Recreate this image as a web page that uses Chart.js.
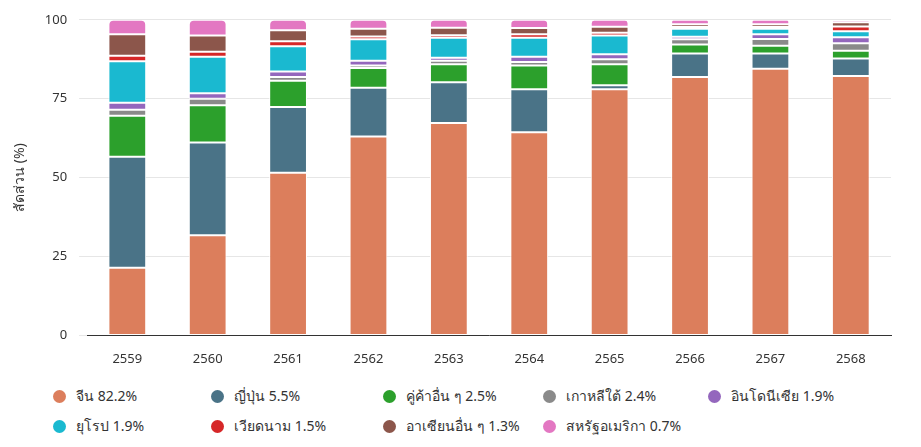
<!DOCTYPE html>
<html><head><meta charset="utf-8">
<script src="https://cdn.jsdelivr.net/npm/chart.js@4"></script>
<style>
body{margin:0;background:#fff;font-family:"Noto Sans",sans-serif;}
#wrap{position:relative;width:921px;height:375px;}
#legend{display:grid;grid-template-columns:158px 172px 160px 165px 180px;margin-left:53px;row-gap:8px;font-size:14px;color:#333;margin-top:10px;}
#legend div{display:flex;align-items:center;}
#legend span.dot{width:13px;height:13px;border-radius:50%;margin-right:10px;display:inline-block;}
</style></head>
<body>
<div id="wrap"><canvas id="c"></canvas></div>
<div id="legend"></div>
<script>
const years = ['2559','2560','2561','2562','2563','2564','2565','2566','2567','2568'];
const china     = [21.4, 31.7, 51.5, 63.0, 67.3, 64.4, 78.0, 81.9, 84.5, 82.2];
const japan     = [35.2, 29.4, 20.9, 15.5, 12.9, 13.6, 1.3, 7.4, 4.8, 5.5];
const others    = [13.0, 11.8, 8.3, 6.2, 5.7, 7.5, 6.6, 2.9, 2.5, 2.5];
const korea     = [1.9, 2.1, 1.2, 0.8, 1.1, 1.1, 1.6, 1.6, 2.1, 2.4];
const indonesia = [2.2, 1.7, 1.7, 1.5, 1.0, 1.7, 1.6, 0.8, 1.5, 1.9];
const europe    = [13.2, 11.6, 8.0, 6.8, 6.3, 6.0, 5.9, 2.6, 1.8, 1.9];
const vietnam   = [1.7, 1.6, 1.6, 0.9, 0.8, 1.1, 0.9, 0.5, 0.5, 1.5];
const asean     = [6.8, 5.1, 3.5, 2.5, 2.4, 2.0, 1.9, 0.9, 0.9, 1.3];
const usa       = [4.6, 5.0, 3.3, 2.8, 2.5, 2.6, 2.2, 1.4, 1.4, 0.7];

const series = [
  ['จีน 82.2%', china, '#dc7e5c'],
  ['ญี่ปุ่น 5.5%', japan, '#4a7387'],
  ['คู่ค้าอื่น ๆ 2.5%', others, '#2ca02c'],
  ['เกาหลีใต้ 2.4%', korea, '#8a8a8a'],
  ['อินโดนีเซีย 1.9%', indonesia, '#9467bd'],
  ['ยุโรป 1.9%', europe, '#1ab9d0'],
  ['เวียดนาม 1.5%', vietnam, '#d62728'],
  ['อาเซียนอื่น ๆ 1.3%', asean, '#8c564b'],
  ['สหรัฐอเมริกา 0.7%', usa, '#e377c2']
];

const font = {family: '"Noto Sans", sans-serif', size: 13};
new Chart(document.getElementById('c'), {
  type: 'bar',
  data: {
    labels: years,
    datasets: series.map((s, i) => ({
      label: s[0], data: s[1], backgroundColor: s[2],
      borderColor: '#fff', borderWidth: 1,
      borderRadius: i === series.length - 1 ? {topLeft: 5, topRight: 5} : 0,
      borderSkipped: false,
      barPercentage: 0.47, categoryPercentage: 1
    }))
  },
  options: {
    responsive: true, maintainAspectRatio: false, animation: false,
    layout: {padding: {left: 8, right: 30, top: 12, bottom: 0}},
    plugins: {legend: {display: false}, tooltip: {enabled: false}},
    scales: {
      x: {stacked: true, grid: {display: false}, border: {color: '#333'},
          ticks: {color: '#333', font: font, padding: 8}},
      y: {stacked: true, min: 0, max: 100, border: {display: false},
          grid: {color: '#e6e6e6'},
          ticks: {stepSize: 25, color: '#333', font: font, padding: 12},
          title: {display: true, text: 'สัดส่วน (%)', color: '#333', font: {family: font.family, size: 14}}}
    }
  }
});

const legend = document.getElementById('legend');
series.forEach(s => {
  const d = document.createElement('div');
  d.innerHTML = '<span class="dot" style="background:' + s[2] + '"></span>' + s[0];
  legend.appendChild(d);
});
</script>
</body></html>
